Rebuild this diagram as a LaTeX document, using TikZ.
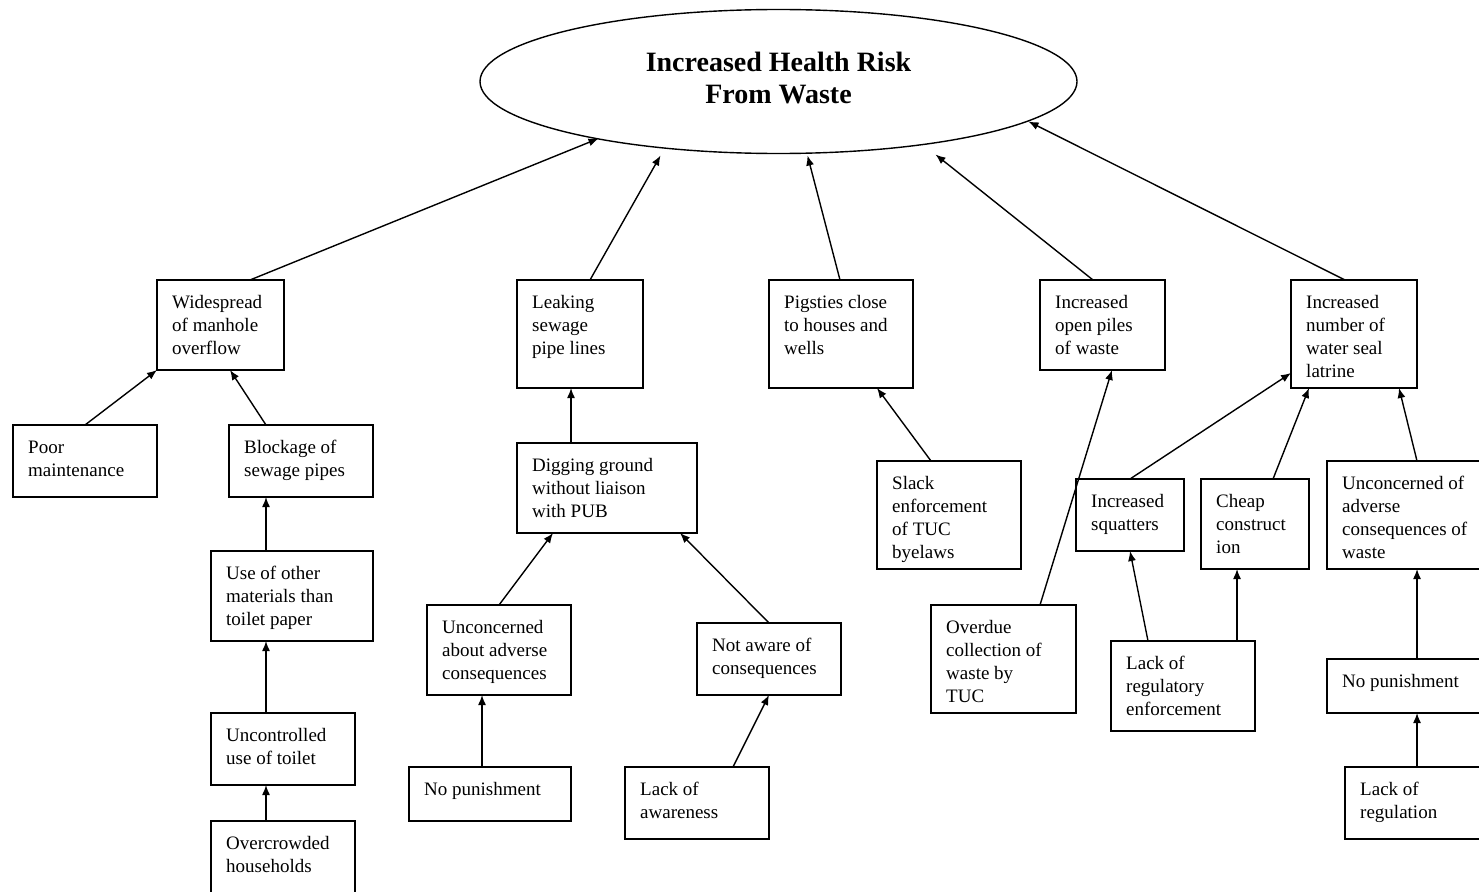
\documentclass[tikz,border=0pt]{standalone}
\usepackage{fontspec}
\setmainfont{Liberation Serif}
\usetikzlibrary{shapes.geometric,arrows.meta}
\begin{document}
\begin{tikzpicture}[x=1pt,y=-1pt,
 box/.style={draw, line width=1.4pt, inner sep=0pt, outer sep=0pt, anchor=north west},
 txt/.style={anchor=north west, inner sep=0pt, align=left, font={\fontsize{19}{23}\selectfont}, xshift=15pt, yshift=-12pt},
 arr/.style={line width=1.4pt, -{Latex[length=10pt,width=8pt]}},
 goal/.style={draw, ellipse, line width=1.4pt, inner sep=0pt},
 goaltxt/.style={align=center, inner sep=0pt, yshift=4pt, font={\fontsize{28}{32}\selectfont\bfseries}}]
\useasboundingbox (0,0) rectangle (1479,891);
\fill[white] (0,0) rectangle (1479,891);
\newcommand\bx[6]{\node[box, minimum width=#4pt, minimum height=#5pt, label={[txt]north west:{\strut #6}}] (#1) at (#2,#3) {};}

\node[goal, minimum width=597pt, minimum height=144pt, label={[goaltxt]center:Increased Health Risk\\From Waste}] (top) at (778.5,81.5) {};

\bx{wide}{157}{280}{127}{90}{Widespread\\of manhole\\overflow}
\bx{leak}{517}{280}{126}{108}{Leaking\\sewage\\pipe lines}
\bx{pig}{769}{280}{144}{108}{Pigsties close\\to houses and\\wells}
\bx{piles}{1040}{280}{125}{90}{Increased\\open piles\\of waste}
\bx{latr}{1291}{280}{126}{108}{Increased\\number of\\water seal\\latrine}
\bx{poor}{13}{425}{144}{72}{Poor\\maintenance}
\bx{block}{229}{425}{144}{72}{Blockage of\\sewage pipes}
\bx{useo}{211}{551}{162}{90}{Use of other\\materials than\\toilet paper}
\bx{unc}{211}{713}{144}{72}{Uncontrolled\\use of toilet}
\bx{over}{211}{821}{144}{80}{Overcrowded\\households}
\bx{dig}{517}{443}{180}{90}{Digging ground\\without liaison\\with PUB}
\bx{uncab}{427}{605}{144}{90}{Unconcerned\\about adverse\\consequences}
\bx{notaw}{697}{623}{144}{72}{Not aware of\\consequences}
\bx{nopa}{409}{767}{162}{54}{No punishment}
\bx{lackaw}{625}{767}{144}{72}{Lack of\\awareness}
\bx{slack}{877}{461}{144}{108}{Slack\\enforcement\\of TUC\\byelaws}
\bx{overdue}{931}{605}{145}{108}{Overdue\\collection of\\waste by\\TUC}
\bx{squat}{1076}{479}{108}{72}{Increased\\squatters}
\bx{cheap}{1201}{479}{108}{90}{Cheap\\construct\\ion}
\bx{uncof}{1327}{461}{160}{108}{Unconcerned of\\adverse\\consequences of\\waste}
\bx{lackreg}{1111}{641}{144}{90}{Lack of\\regulatory\\enforcement}
\bx{nopb}{1327}{659}{160}{54}{No punishment}
\bx{lackregu}{1345}{767}{140}{72}{Lack of\\regulation}

% to the goal
\draw[arr] ([xshift=93pt]wide.north west) -- ([shift={(-180,57)}]top.center);
\draw[arr] ([xshift=73pt]leak.north west) -- ([shift={(-118,74)}]top.center);
\draw[arr] ([xshift=71pt]pig.north west) -- ([shift={(29,74)}]top.center);
\draw[arr] ([xshift=53pt]piles.north west) -- ([shift={(157,73)}]top.center);
\draw[arr] ([xshift=54pt]latr.north west) -- ([shift={(250,40)}]top.center);
% lower
\draw[arr] (poor.north) -- (wide.south west);
\draw[arr] ([xshift=37pt]block.north west) -- ([xshift=73pt]wide.south west);
\draw[arr] ([xshift=55pt]useo.north west) -- ([xshift=37pt]block.south west);
\draw[arr] ([xshift=55pt]unc.north west) -- ([xshift=55pt]useo.south west);
\draw[arr] ([xshift=55pt]over.north west) -- ([xshift=55pt]unc.south west);
\draw[arr] ([xshift=54pt]dig.north west) -- ([xshift=54pt]leak.south west);
\draw[arr] (uncab.north) -- ([xshift=36pt]dig.south west);
\draw[arr] (notaw.north) -- ([xshift=163pt]dig.south west);
\draw[arr] ([xshift=73pt]nopa.north west) -- ([xshift=55pt]uncab.south west);
\draw[arr] ([xshift=108pt]lackaw.north west) -- (notaw.south);
\draw[arr] ([xshift=54pt]slack.north west) -- ([xshift=108pt]pig.south west);
\draw[arr] ([xshift=109pt]overdue.north west) -- ([xshift=72pt]piles.south west);
\draw[arr] (squat.north) -- ([yshift=15pt]latr.south west);
\draw[arr] ([xshift=72pt]cheap.north west) -- ([xshift=18pt]latr.south west);
\draw[arr] ([xshift=90pt]uncof.north west) -- ([xshift=108pt]latr.south west);
\draw[arr] ([xshift=37pt]lackreg.north west) -- (squat.south);
\draw[arr] ([xshift=126pt]lackreg.north west) -- ([xshift=36pt]cheap.south west);
\draw[arr] ([xshift=90pt]nopb.north west) -- ([xshift=90pt]uncof.south west);
\draw[arr] ([xshift=72pt]lackregu.north west) -- ([xshift=90pt]nopb.south west);
\end{tikzpicture}
\end{document}
